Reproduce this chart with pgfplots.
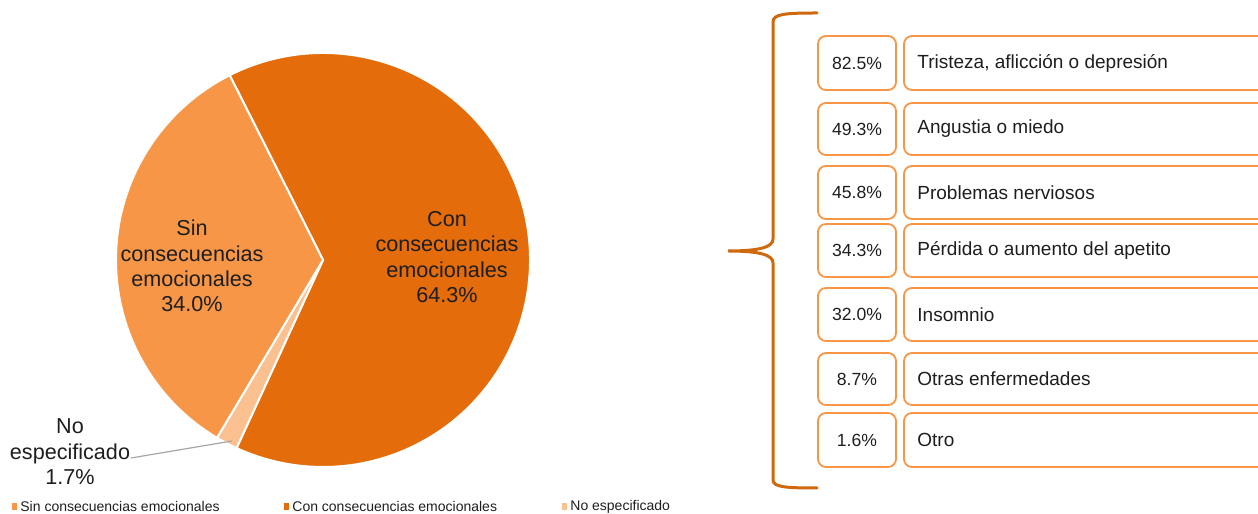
\documentclass[border=0pt]{standalone}
\usepackage{pgfplots}
\pgfplotsset{compat=1.18}
\usepackage{pgfplotstable}
\usepackage{fontspec}
\setmainfont{Liberation Sans}
\definecolor{conC}{HTML}{E46C0A}
\definecolor{sinC}{HTML}{F79646}
\definecolor{noC}{HTML}{FAC090}
\definecolor{boxC}{HTML}{F79646}
\definecolor{braceC}{HTML}{D0690E}
\definecolor{txt}{HTML}{1E1E1E}

\pgfplotstableread{
cat value
Sin 34.0
Con 64.3
NoEsp 1.7
}\pietable

\newcommand\piefont{\fontsize{10.8bp}{12.7bp}\selectfont}
\newcommand\pctfont{\fontsize{8.8bp}{10bp}\selectfont}
\newcommand\boxfont{\fontsize{9.5bp}{11bp}\selectfont}
\newcommand\legfont{\fontsize{7bp}{8bp}\selectfont}
\newcommand\pnum[1]{\pgfmathprintnumber[fixed,precision=1,fixed zerofill,assume math mode=true]{#1}}

% one row of the right panel: top(px), bottom(px), value, label
\newcommand\row[4]{%
  \draw[boxC, line width=0.9bp, rounded corners=4bp] (axis cs:818,{514-#1}) rectangle (axis cs:896,{514-#2});
  \draw[boxC, line width=0.9bp, rounded corners=4bp] (axis cs:1275,{514-#1}) -- (axis cs:904,{514-#1}) -- (axis cs:904,{514-#2}) -- (axis cs:1275,{514-#2});
  \node[text=txt, font=\pctfont] at (axis cs:857,{514-(#1+#2)/2}) {#3\%};
  \node[anchor=west, text=txt, font=\boxfont, inner sep=0pt] at (axis cs:917,{514-(#1+#2)/2}) {#4};
}

\begin{document}
\begin{tikzpicture}
\pgfplotstablegetelem{0}{value}\of\pietable\global\let\vSin\pgfplotsretval
\pgfplotstablegetelem{1}{value}\of\pietable\global\let\vCon\pgfplotsretval
\pgfplotstablegetelem{2}{value}\of\pietable\global\let\vNo\pgfplotsretval
\pgfmathsetmacro\aA{116.8}\global\let\aA\aA
\pgfmathsetmacro\aB{\aA-3.6*\vCon}\global\let\aB\aB
\pgfmathsetmacro\aC{\aB-3.6*\vNo}\global\let\aC\aC
\pgfmathsetmacro\aD{\aA-360}\global\let\aD\aD
\begin{axis}[scale only axis, width=629bp, height=257bp,
  xmin=0, xmax=1258, ymin=0, ymax=514, hide axis, clip=false]
% pie slices (centre 323,254; radius 207 units = 103.5bp)
\filldraw[fill=conC, draw=white, line width=1bp]
  (axis cs:323,254) -- (axis cs:{323+207*cos(\aA)},{254+207*sin(\aA)})
  arc[start angle=\aA, end angle=\aB, radius=103.5bp] -- cycle;
\filldraw[fill=noC, draw=white, line width=1bp]
  (axis cs:323,254) -- (axis cs:{323+207*cos(\aB)},{254+207*sin(\aB)})
  arc[start angle=\aB, end angle=\aC, radius=103.5bp] -- cycle;
\filldraw[fill=sinC, draw=white, line width=1bp]
  (axis cs:323,254) -- (axis cs:{323+207*cos(\aC)},{254+207*sin(\aC)})
  arc[start angle=\aC, end angle=\aD, radius=103.5bp] -- cycle;
% pie labels
\node[align=center, text=txt, font=\piefont] at (axis cs:192,248)
  {Sin\\consecuencias\\emocionales\\\pnum{\vSin}\%};
\node[align=center, text=txt, font=\piefont] at (axis cs:447,257)
  {Con\\consecuencias\\emocionales\\\pnum{\vCon}\%};
\node[align=center, text=txt, font=\piefont] at (axis cs:70,62)
  {No\\especificado\\\pnum{\vNo}\%};
\draw[gray!70, line width=0.6bp] (axis cs:131,56) -- (axis cs:232,73);
% legend
\fill[sinC] (axis cs:12,4) rectangle (axis cs:17,11);
\node[anchor=west, text=txt, font=\legfont, inner sep=0pt] at (axis cs:20,7.5) {Sin consecuencias emocionales};
\fill[conC] (axis cs:284,4) rectangle (axis cs:289,11);
\node[anchor=west, text=txt, font=\legfont, inner sep=0pt] at (axis cs:292,7.5) {Con consecuencias emocionales};
\fill[noC] (axis cs:562,4) rectangle (axis cs:567,11);
\node[anchor=west, text=txt, font=\legfont, inner sep=0pt] at (axis cs:570,7.5) {No especificado};
% brace
\draw[braceC, line width=1.5bp, line cap=round]
  (axis cs:817,501) .. controls (axis cs:785,501) and (axis cs:773,500) .. (axis cs:773,492)
  -- (axis cs:773,275) .. controls (axis cs:773,267) and (axis cs:760,263) .. (axis cs:728,263)
  .. controls (axis cs:760,263) and (axis cs:773,259) .. (axis cs:773,251)
  -- (axis cs:773,34) .. controls (axis cs:773,27) and (axis cs:785,26) .. (axis cs:817,26);
% boxes
\row{36}{90}{82.5}{Tristeza, aflicción o depresión}
\row{103}{155}{49.3}{Angustia o miedo}
\row{166}{219}{45.8}{Problemas nerviosos}
\row{224}{277}{34.3}{Pérdida o aumento del apetito}
\row{288}{341}{32.0}{Insomnio}
\row{353}{405}{8.7}{Otras enfermedades}
\row{413}{467}{1.6}{Otro}
\end{axis}
\pgfresetboundingbox
\path[use as bounding box] (current axis.south west) rectangle (current axis.north east);
\end{tikzpicture}
\end{document}
